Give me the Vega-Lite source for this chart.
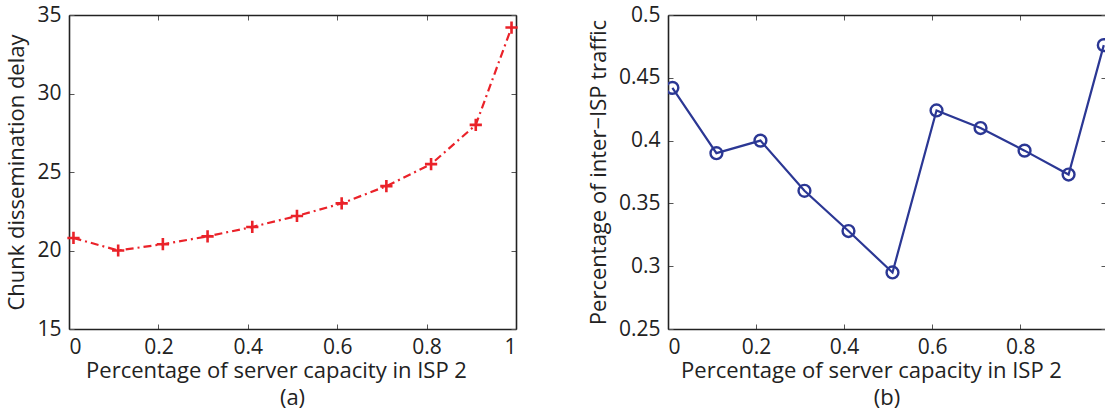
{
  "$schema": "https://vega.github.io/schema/vega-lite/v6.json",
  "padding": {"left": 5, "top": 4, "right": 0, "bottom": 4},
  "background": "white",
  "config": {
    "view": {"stroke": null},
    "font": "Open Sans",
    "axis": {
      "domainColor": "#222222",
      "domainWidth": 1.6,
      "tickColor": "#555555",
      "tickSize": -5,
      "tickWidth": 1,
      "grid": false,
      "labelFont": "Open Sans",
      "labelFontSize": 21,
      "labelColor": "#222222",
      "titleFont": "Open Sans",
      "titleFontSize": 22,
      "titleFontWeight": "normal",
      "titleColor": "#222222"
    },
    "title": {"font": "Open Sans", "fontSize": 22, "fontWeight": "normal", "color": "#222222"}
  },
  "datasets": {
    "delay": [
      {"p": 0.01, "v": 20.8},
      {"p": 0.11, "v": 20.0},
      {"p": 0.21, "v": 20.4},
      {"p": 0.31, "v": 20.9},
      {"p": 0.41, "v": 21.5},
      {"p": 0.51, "v": 22.2},
      {"p": 0.61, "v": 23.0},
      {"p": 0.71, "v": 24.1},
      {"p": 0.81, "v": 25.5},
      {"p": 0.91, "v": 28.0},
      {"p": 0.99, "v": 34.2}
    ],
    "traffic": [
      {"p": 0.01, "v": 0.442},
      {"p": 0.11, "v": 0.390},
      {"p": 0.21, "v": 0.400},
      {"p": 0.31, "v": 0.360},
      {"p": 0.41, "v": 0.328},
      {"p": 0.51, "v": 0.295},
      {"p": 0.61, "v": 0.424},
      {"p": 0.71, "v": 0.410},
      {"p": 0.81, "v": 0.392},
      {"p": 0.91, "v": 0.373},
      {"p": 0.99, "v": 0.476}
    ]
  },
  "hconcat": [
    {
      "width": 447,
      "height": 314,
      "data": {"name": "delay"},
      "title": {"text": "(a)", "orient": "bottom", "offset": 7, "frame": "group"},
      "layer": [
        {
          "mark": {"type": "line", "color": "#ea2229", "strokeWidth": 2.2, "strokeDash": [8, 4, 2, 4]},
          "encoding": {
            "x": {"field": "p", "type": "quantitative", "scale": {"domain": [0, 1], "nice": false},
              "axis": {"orient": "bottom", "values": [0, 0.2, 0.4, 0.6, 0.8, 1], "format": "~g", "labelPadding": 12, "title": "Percentage of server capacity in ISP 2", "titlePadding": 3, "titleX": 207}},
            "y": {"field": "v", "type": "quantitative", "scale": {"domain": [15, 35], "nice": false, "zero": false},
              "axis": {"orient": "left", "values": [15, 20, 25, 30, 35], "labelPadding": 13, "title": "Chunk dissemination delay", "titlePadding": 8}}
          }
        },
        {
          "mark": {"type": "point", "shape": "M-1,0L1,0M0,-1L0,1", "size": 150, "strokeWidth": 2.6, "color": "#ea2229", "filled": false, "opacity": 1},
          "encoding": {
            "x": {"field": "p", "type": "quantitative", "axis": {"orient": "top", "values": [0, 0.2, 0.4, 0.6, 0.8, 1], "labels": false, "title": null}},
            "y": {"field": "v", "type": "quantitative", "axis": {"orient": "right", "values": [15, 20, 25, 30, 35], "labels": false, "title": null}}
          }
        }
      ],
      "resolve": {"axis": {"x": "independent", "y": "independent"}}
    },
    {
      "width": 438,
      "height": 314,
      "data": {"name": "traffic"},
      "title": {"text": "(b)", "orient": "bottom", "offset": 7, "frame": "group"},
      "layer": [
        {
          "mark": {"type": "line", "color": "#2b3794", "strokeWidth": 2.2, "clip": true},
          "encoding": {
            "x": {"field": "p", "type": "quantitative", "scale": {"domain": [0, 0.995], "nice": false},
              "axis": {"orient": "bottom", "values": [0, 0.2, 0.4, 0.6, 0.8], "format": "~g", "labelPadding": 12, "title": "Percentage of server capacity in ISP 2", "titlePadding": 3, "titleX": 203}},
            "y": {"field": "v", "type": "quantitative", "scale": {"domain": [0.25, 0.5], "nice": false, "zero": false},
              "axis": {"orient": "left", "values": [0.25, 0.3, 0.35, 0.4, 0.45, 0.5], "format": "~g", "labelPadding": 13, "title": "Percentage of inter−ISP traffic", "titlePadding": 8}}
          }
        },
        {
          "mark": {"type": "point", "shape": "circle", "size": 140, "strokeWidth": 2.4, "color": "#2b3794", "filled": false, "opacity": 1, "clip": true},
          "encoding": {
            "x": {"field": "p", "type": "quantitative", "axis": {"orient": "top", "values": [0, 0.2, 0.4, 0.6, 0.8], "labels": false, "title": null}},
            "y": {"field": "v", "type": "quantitative", "axis": {"orient": "right", "domain": false, "values": [0.25, 0.3, 0.35, 0.4, 0.45, 0.5], "labels": false, "title": null}}
          }
        }
      ],
      "resolve": {"axis": {"x": "independent", "y": "independent"}}
    }
  ],
  "spacing": 64
}
